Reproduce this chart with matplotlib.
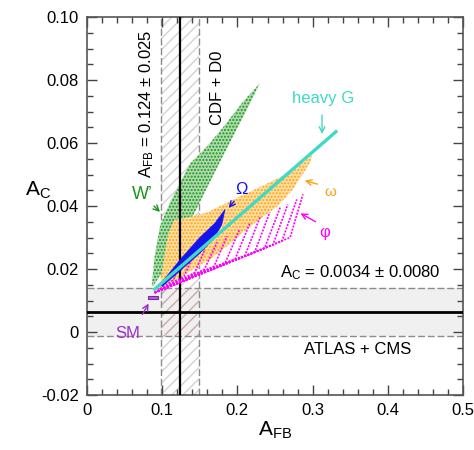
import numpy as np
import matplotlib
matplotlib.use('Agg')
import matplotlib.pyplot as plt
from matplotlib.patches import Polygon, Rectangle
from matplotlib.ticker import MultipleLocator

plt.rcParams['font.family'] = ['Liberation Sans', 'DejaVu Sans']
plt.rcParams['mathtext.default'] = 'regular'
plt.rcParams['hatch.linewidth'] = 1.0

# measured values (band positions as drawn in the figure)
afb_central, afb_err = 0.124, 0.025
ac_central, ac_err = 0.0064, 0.0077

# W' model region (envelope of the green points)
wp_upper_x = [0.086, 0.090, 0.097, 0.110, 0.125, 0.137, 0.160, 0.181, 0.207, 0.230]
wp_upper_y = [0.0146, 0.024, 0.0335, 0.041, 0.048, 0.0535, 0.059, 0.065, 0.073, 0.079]
wp_lower_x = [0.226, 0.207, 0.181, 0.160, 0.137, 0.114, 0.100, 0.088]
wp_lower_y = [0.077, 0.068, 0.056, 0.046, 0.035, 0.025, 0.019, 0.0146]

# omega model region (orange)
om_upper_x = [0.097, 0.103, 0.108, 0.116, 0.137, 0.160, 0.186, 0.207, 0.230, 0.253, 0.274, 0.299]
om_upper_y = [0.0146, 0.024, 0.031, 0.0355, 0.0365, 0.038, 0.041, 0.0435, 0.046, 0.0487, 0.051, 0.0562]
om_lower_x = [0.297, 0.274, 0.253, 0.230, 0.207, 0.186, 0.164, 0.141, 0.120, 0.097]
om_lower_y = [0.054, 0.0453, 0.0399, 0.0358, 0.0316, 0.0272, 0.0231, 0.0199, 0.0168, 0.0140]

# Omega model region (blue)
bo_x = [0.097, 0.124, 0.150, 0.170, 0.1835, 0.179, 0.168, 0.150, 0.124, 0.100]
bo_y = [0.015, 0.023, 0.030, 0.0345, 0.0389, 0.034, 0.0295, 0.025, 0.0195, 0.0145]

# phi model strands (magenta): common start, knee, tip
phi_base = (0.090, 0.0125)
phi_knee_x = [0.270, 0.259, 0.247, 0.236, 0.223, 0.210, 0.197, 0.184, 0.169, 0.156, 0.143, 0.129, 0.115]
phi_knee_y = [0.0300, 0.0288, 0.0276, 0.0266, 0.0254, 0.0243, 0.0232, 0.0221, 0.0209, 0.0199, 0.0188, 0.0177, 0.0166]
phi_tip_x = [0.287, 0.279, 0.267, 0.257, 0.243, 0.230, 0.217, 0.203, 0.186, 0.173, 0.157, 0.141, 0.124]
phi_tip_y = [0.0437, 0.0421, 0.0405, 0.0396, 0.0380, 0.0364, 0.0348, 0.0326, 0.0304, 0.0285, 0.0263, 0.0241, 0.0215]

# heavy G line (cyan)
hg_x = [0.090, 0.200, 0.331]
hg_y = [0.0136, 0.0364, 0.0636]

# Standard Model point
sm_x = [0.081, 0.094]
sm_y = [0.0104, 0.0114]

xticks = [0, 0.1, 0.2, 0.3, 0.4, 0.5]
xticklabels = ['0', '0.1', '0.2', '0.3', '0.4', '0.5']
yticks = [-0.02, 0, 0.02, 0.04, 0.06, 0.08, 0.10]
yticklabels = ['-0.02', '0', '0.02', '0.04', '0.06', '0.08', '0.10']

fig = plt.figure(figsize=(4.74, 4.5), dpi=100)
ax = fig.add_axes([0.1835, 0.1222, 0.7935, 0.84])

afb_lo, afb_hi = afb_central - afb_err, afb_central + afb_err
ac_lo, ac_hi = ac_central - ac_err, ac_central + ac_err

# experimental bands
ax.axhspan(ac_lo, ac_hi, facecolor='#f0f0f0', lw=0, zorder=1)
ax.axvspan(afb_lo, afb_hi, facecolor='none', edgecolor='#d2d2d2', hatch='///', lw=0, zorder=1.1)
ax.add_patch(Rectangle((afb_lo, ac_lo), afb_hi - afb_lo, ac_hi - ac_lo, facecolor='#f0f0f0',
                       edgecolor='#cfa8a8', hatch='///', lw=0, zorder=1.2))
for v in (afb_lo, afb_hi):
    ax.axvline(v, color='#8c8c8c', ls=(0, (5, 2)), lw=1, zorder=1.5)
for h in (ac_lo, ac_hi):
    ax.axhline(h, color='#8c8c8c', ls=(0, (5, 2)), lw=1, zorder=1.5)
ax.axvline(afb_central, color='k', lw=1.6, zorder=3.1)
ax.axhline(ac_central, color='k', lw=2, zorder=3.1)

# model regions
wp = Polygon(np.column_stack([wp_upper_x + wp_lower_x, wp_upper_y + wp_lower_y]),
             closed=True, facecolor='#b0dbb0', edgecolor='#1a941a', hatch='.....', lw=0,
             zorder=3)
ax.add_patch(wp)
om = Polygon(np.column_stack([om_upper_x + om_lower_x, om_upper_y + om_lower_y]),
             closed=True, facecolor='#ffe0a6', edgecolor='#ffa010', hatch='.....', lw=0,
             zorder=3)
ax.add_patch(om)
for kx, ky, tx, ty in zip(phi_knee_x, phi_knee_y, phi_tip_x, phi_tip_y):
    ax.plot([phi_base[0], kx, tx], [phi_base[1], ky, ty], color='#ff00ff', lw=1.2,
            ls=(0, (1.2, 0.8)), zorder=3.2)
ax.add_patch(Polygon(np.column_stack([bo_x, bo_y]), closed=True, facecolor='#1414f0',
                     edgecolor='#1414f0', lw=0.5, zorder=3.4))
ax.plot(hg_x, hg_y, color='#3fd9c6', lw=2.4, zorder=3.6)
ax.add_patch(Rectangle((sm_x[0], sm_y[0]), sm_x[1] - sm_x[0], sm_y[1] - sm_y[0],
                       facecolor='#b060d8', edgecolor='#7a2aa0', lw=0.8, zorder=3.7))

# labels
ax.text(0.0798, 0.0724, 'A$_{FB}$ = 0.124 ± 0.025', rotation=90, ha='center', va='center', fontsize=12)
ax.text(0.173, 0.0775, 'CDF + D0', rotation=90, ha='center', va='center', fontsize=12)
ax.text(0.363, 0.0190, 'A$_C$ = 0.0034 ± 0.0080', ha='center', va='center', fontsize=12)
ax.text(0.360, -0.0057, 'ATLAS + CMS', ha='center', va='center', fontsize=12)

def label(txt, xy_text, xy_arrow, color, size=12):
    ax.text(xy_text[0], xy_text[1], txt, color=color, fontsize=size, ha='center', va='center', zorder=5)
    ax.annotate('', xy=xy_arrow[1], xytext=xy_arrow[0],
                arrowprops=dict(arrowstyle='->', color=color, lw=1), zorder=5)

label('W’', (0.073, 0.0435), ((0.0864, 0.0406), (0.0997, 0.0375)), '#1a941a', 13)
label('Ω', (0.206, 0.0454), ((0.198, 0.0422), (0.186, 0.0387)), '#1414f0', 12)
label('heavy G', (0.314, 0.0740), ((0.3125, 0.0698), (0.3125, 0.062)), '#3fd9c6', 12)
label('ω', (0.323, 0.0444), ((0.310, 0.0467), (0.286, 0.0483)), '#ffa010', 11)
label('φ', (0.3165, 0.0317), ((0.307, 0.0346), (0.2806, 0.0381)), '#ff00ff', 12)
label('SM', (0.0545, -0.0006), ((0.0718, 0.0048), (0.0838, 0.0098)), '#9b30c8', 12)

ax.set_xlim(0, 0.5)
ax.set_ylim(-0.02, 0.10)
ax.set_xticks(xticks)
ax.set_xticklabels(xticklabels)
ax.set_yticks(yticks)
ax.set_yticklabels(yticklabels)
ax.xaxis.set_minor_locator(MultipleLocator(0.02))
ax.yaxis.set_minor_locator(MultipleLocator(0.005))
ax.tick_params(which='both', direction='in', top=True, right=True, width=1, color='#444444')
ax.tick_params(which='major', length=7, labelsize=12, pad=6)
ax.tick_params(which='minor', length=4)
for s in ax.spines.values():
    s.set_color('#555555')
    s.set_linewidth(1.2)

ax.set_xlabel('A$_{FB}$', fontsize=15)
ax.xaxis.set_label_coords(0.5, -0.065)
ax.set_ylabel('A$_C$', fontsize=15, rotation=0, ha='center', va='center')
ax.yaxis.set_label_coords(-0.13, 0.542)

fig.savefig('out.png', dpi=100)
